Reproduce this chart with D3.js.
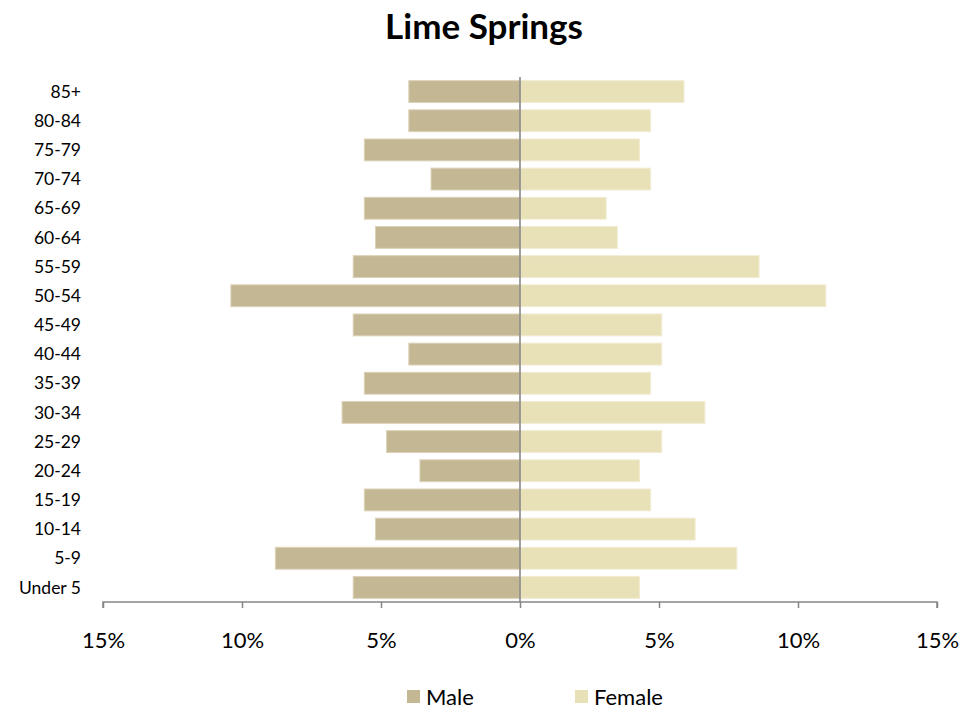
<!DOCTYPE html>
<html>
<head>
<meta charset="utf-8">
<script src="https://cdn.jsdelivr.net/npm/d3@7"></script>
<style>
  body { margin: 0; background: #fff; font-family: Lato, "Open Sans", sans-serif; }
</style>
</head>
<body>
<script>
// Age groups, top to bottom
var ageGroups = ["85+", "80-84", "75-79", "70-74", "65-69", "60-64", "55-59", "50-54",
  "45-49", "40-44", "35-39", "30-34", "25-29", "20-24", "15-19", "10-14", "5-9", "Under 5"];

// Percent of population
var maleValues = [4.0, 4.0, 5.6, 3.2, 5.6, 5.2, 6.0, 10.4, 6.0, 4.0, 5.6, 6.4, 4.8, 3.6, 5.6, 5.2, 8.8, 6.0];
var femaleValues = [5.9, 4.7, 4.3, 4.7, 3.1, 3.5, 8.6, 11.0, 5.1, 5.1, 4.7, 6.65, 5.1, 4.3, 4.7, 6.3, 7.8, 4.3];

var tickValues = [-15, -10, -5, 0, 5, 10, 15];
var seriesNames = ["Male", "Female"];
var seriesColors = ["#c4b794", "#e8e1b7"];

var svgWidth = 979;
var svgHeight = 713;
var margin = { top: 77, right: 42, bottom: 111, left: 103 };
var width = svgWidth - margin.left - margin.right;
var height = svgHeight - margin.top - margin.bottom;

var svg = d3.select("body")
  .append("svg")
  .attr("width", svgWidth)
  .attr("height", svgHeight);

var chartGroup = svg.append("g")
  .attr("transform", `translate(${margin.left}, ${margin.top})`);

var xScale = d3.scaleLinear().domain([-15, 15]).range([0, width]);
var yScale = d3.scaleBand().domain(ageGroups).range([0, height]).paddingInner(0.25).paddingOuter(0.125);

// title
svg.append("text")
  .attr("x", 484)
  .attr("y", 39)
  .attr("text-anchor", "middle")
  .attr("font-size", "35px")
  .attr("font-weight", "bold")
  .attr("fill", "#000")
  .text("Lime Springs");

// male bars
chartGroup.selectAll(".male")
  .data(ageGroups)
  .enter()
  .append("rect")
  .attr("class", "male")
  .attr("x", function (d, i) { return xScale(-maleValues[i]); })
  .attr("y", function (d) { return yScale(d); })
  .attr("width", function (d, i) { return xScale(0) - xScale(-maleValues[i]); })
  .attr("height", yScale.bandwidth())
  .attr("fill", seriesColors[0])
  .attr("stroke", "#dcd3ba")
  .attr("stroke-width", 1);

// female bars
chartGroup.selectAll(".female")
  .data(ageGroups)
  .enter()
  .append("rect")
  .attr("class", "female")
  .attr("x", xScale(0))
  .attr("y", function (d) { return yScale(d); })
  .attr("width", function (d, i) { return xScale(femaleValues[i]) - xScale(0); })
  .attr("height", yScale.bandwidth())
  .attr("fill", seriesColors[1])
  .attr("stroke", "#f1ecd3")
  .attr("stroke-width", 1);

// zero line
chartGroup.append("line")
  .attr("x1", xScale(0))
  .attr("x2", xScale(0))
  .attr("y1", 0)
  .attr("y2", height)
  .attr("stroke", "#808080")
  .attr("stroke-width", 1.5);

// category labels
chartGroup.selectAll(".cat")
  .data(ageGroups)
  .enter()
  .append("text")
  .attr("class", "cat")
  .attr("x", -22)
  .attr("y", function (d) { return yScale(d) + yScale.bandwidth() / 2; })
  .attr("dy", "0.35em")
  .attr("text-anchor", "end")
  .attr("font-size", "17.5px")
  .attr("fill", "#000")
  .text(function (d) { return d; });

// x-axis
var xAxis = d3.axisBottom(xScale)
  .tickValues(tickValues)
  .tickSize(6)
  .tickPadding(24)
  .tickFormat(function (d) { return Math.abs(d) + "%"; });

var axisG = chartGroup.append("g")
  .attr("transform", `translate(0,${height})`)
  .call(xAxis);

axisG.select(".domain").attr("stroke", "#868686").attr("stroke-width", 1.5)
  .attr("d", `M0,6V0H${width}V6`);
axisG.selectAll(".tick line").attr("stroke", "#868686").attr("stroke-width", 1.5);
axisG.selectAll(".tick text")
  .attr("font-size", "22px")
  .attr("font-family", "Lato, 'Open Sans', sans-serif")
  .attr("fill", "#000");

// legend
var legendX = [407, 575];
var legend = svg.selectAll(".legend")
  .data(seriesNames)
  .enter()
  .append("g")
  .attr("class", "legend")
  .attr("transform", function (d, i) { return `translate(${legendX[i]}, 690)`; });

legend.append("rect")
  .attr("width", 13)
  .attr("height", 13)
  .attr("fill", function (d, i) { return seriesColors[i]; });

legend.append("text")
  .attr("x", 19)
  .attr("y", 7)
  .attr("dy", "0.35em")
  .attr("font-size", "22px")
  .attr("fill", "#000")
  .text(function (d) { return d; });
</script>
</body>
</html>
